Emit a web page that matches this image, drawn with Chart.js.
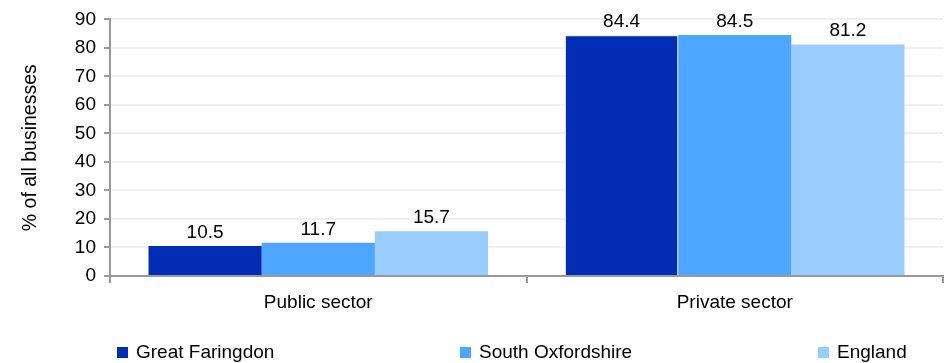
<!DOCTYPE html>
<html>
<head>
<meta charset="utf-8">
<script src="https://cdn.jsdelivr.net/npm/chart.js@4/dist/chart.umd.min.js"></script>
<style>
  html, body { margin: 0; padding: 0; background: #fff; }
  #wrap { width: 947px; height: 363px; }
</style>
</head>
<body>
<div id="wrap"><canvas id="myBarChart" width="947" height="363"></canvas></div>
<script>
// chart data
var categories = ['Public sector', 'Private sector'];
var greatFaringdon = [10.5, 84.4];
var southOxfordshire = [11.7, 84.5];
var england = [15.7, 81.2];
var seriesNames = ['Great Faringdon', 'South Oxfordshire', 'England'];
var seriesColors = ['#002db3', '#4da6ff', '#99ccff'];

var FONT = 'Liberation Sans, Arial, sans-serif';
Chart.defaults.font.family = FONT;
Chart.defaults.font.size = 19;
Chart.defaults.color = '#000';

// value labels above each bar
var valueLabels = {
    id: 'valueLabels',
    afterDatasetsDraw: function(chart) {
        var ctx = chart.ctx;
        ctx.save();
        ctx.font = '19px ' + FONT;
        ctx.fillStyle = '#000';
        ctx.textAlign = 'center';
        ctx.textBaseline = 'alphabetic';
        chart.data.datasets.forEach(function(ds, i) {
            chart.getDatasetMeta(i).data.forEach(function(bar, j) {
                ctx.fillText(ds.data[j].toFixed(1), bar.x, bar.y - 8);
            });
        });
        ctx.restore();
    }
};

// legend spread along the bottom
var bottomLegend = {
    id: 'bottomLegend',
    afterDraw: function(chart) {
        var ctx = chart.ctx;
        var xs = [117, 460, 818];
        ctx.save();
        ctx.font = '19px ' + FONT;
        ctx.textBaseline = 'middle';
        ctx.textAlign = 'left';
        chart.data.datasets.forEach(function(ds, i) {
            ctx.fillStyle = ds.backgroundColor;
            ctx.fillRect(xs[i], 347, 11, 11);
            ctx.fillStyle = '#000';
            ctx.fillText(ds.label, xs[i] + 19, 353);
        });
        ctx.restore();
    }
};

function makeDataset(idx, values) {
    return {
        label: seriesNames[idx],
        data: values,
        backgroundColor: seriesColors[idx],
        borderWidth: 0,
        barPercentage: 1.0,
        categoryPercentage: 0.815
    };
}

var ds0 = makeDataset(0, greatFaringdon);
ds0.borderWidth = [0, 1];   // the private sector bar has a thin pale outline
ds0.borderColor = '#e2decf';

var ctxB = document.getElementById('myBarChart').getContext('2d');
window.myBarChart = new Chart(ctxB, {
    type: 'bar',
    data: {
        labels: categories,
        datasets: [
            ds0,
            makeDataset(1, southOxfordshire),
            makeDataset(2, england)
        ]
    },
    options: {
        responsive: false,
        animation: false,
        layout: {
            padding: { top: 17, left: 0, right: 4, bottom: 47 }
        },
        scales: {
            y: {
                min: 0,
                max: 90,
                ticks: { stepSize: 10, padding: 8, color: '#000' },
                grid: { color: '#f0f0f0', lineWidth: 2, tickColor: '#999', tickLength: 6 },
                border: { color: '#999', width: 2 },
                title: {
                    display: true,
                    text: '% of all businesses',
                    color: '#000',
                    font: { size: 19.5 },
                    padding: { top: 19, bottom: 0 }
                },
                afterFit: function(scale) { scale.width = 110; }
            },
            x: {
                ticks: { padding: 8, color: '#000' },
                grid: { drawOnChartArea: false, tickColor: '#999', tickLength: 7, lineWidth: 2 },
                border: { color: '#999', width: 2 },
                afterFit: function(scale) { scale.height = 40; }
            }
        },
        plugins: {
            legend: { display: false },
            tooltip: { enabled: false }
        }
    },
    plugins: [valueLabels, bottomLegend]
});
</script>
</body>
</html>
